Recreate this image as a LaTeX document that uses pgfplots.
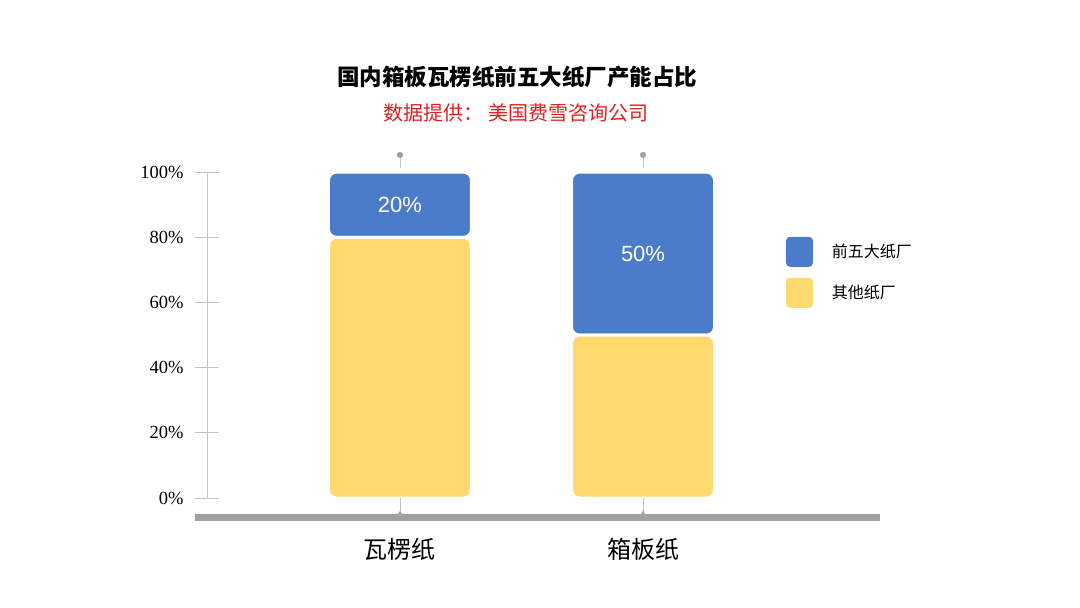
\documentclass[border=0pt]{standalone}
\usepackage{pgfplots}
\pgfplotsset{compat=1.18}
\usepackage{fontspec}
\setmainfont{Liberation Sans}
\newfontfamily\cjk{Noto Sans CJK SC}
\newfontfamily\serif{Liberation Serif}

\definecolor{barblue}{RGB}{74,124,201}
\definecolor{baryellow}{RGB}{253,217,110}
\definecolor{basegray}{RGB}{160,160,162}
\definecolor{axgray}{RGB}{195,195,195}
\definecolor{subred}{RGB}{224,32,32}

\begin{document}
\begin{tikzpicture}[x=1pt,y=1pt]
\path[use as bounding box] (0,0) rectangle (1080,608);
% titles
\node[font=\cjk\bfseries\fontsize{22.5}{22.5}\selectfont] at (517,531) {国内箱板瓦楞纸前五大纸厂产能占比};
\node[font=\cjk\fontsize{20}{20}\selectfont, text=subred] at (516,495) {数据提供： 美国费雪咨询公司};

\begin{axis}[
  at={(207pt,90.4pt)}, anchor=south west,
  scale only axis, width=673pt, height=365pt,
  xmin=-0.794, xmax=1.975, ymin=-6, ymax=106,
  ybar stacked, bar width=143pt,
  xtick={0,1}, xticklabels={瓦楞纸,箱板纸},
  ytick={0,20,...,100},
  yticklabel={\pgfmathprintnumber{\tick}\%},
  axis x line=bottom, axis y line=left,
  x axis line style={-, draw=basegray, line width=7pt, shorten <=-12pt},
  y axis line style={-, draw=axgray, line width=0.8pt, shorten <=19.6pt, shorten >=19.6pt},
  tick align=center, major tick length=24pt,
  ytick style={draw=axgray, line width=0.8pt},
  xtick style={draw=none},
  yticklabel style={font=\serif\fontsize{18.5}{18.5}\selectfont, xshift=-8pt},
  /pgf/number format/assume math mode=true,
  xticklabel style={font=\cjk\fontsize{24}{24}\selectfont, yshift=-5pt},
  reverse legend,
  legend style={at={(0.860,0.672)}, anchor=west, draw=none, fill=none, inner sep=0pt,
    font=\cjk\fontsize{16}{16}\selectfont, row sep=11pt,
    /tikz/every odd column/.append style={column sep=17pt}},
  legend image code/.code={\fill[#1, draw=none, rounded corners=4pt] (0pt,-15pt) rectangle (27pt,15pt);},
  legend cell align=left,
  clip=false,
]
\addplot[fill=baryellow, draw=white, line width=3pt, rounded corners=8pt]
  coordinates {(0,80) (1,50)};
\addplot[fill=barblue, draw=white, line width=3pt, rounded corners=8pt,
  point meta=rawy,
  nodes near coords={\pgfmathprintnumber{\pgfplotspointmeta}\%},
  every node near coord/.append style={anchor=center, text=white,
    font=\fontsize{22}{22}\selectfont}]
  coordinates {(0,20) (1,50)};
\legend{其他纸厂,前五大纸厂}
\end{axis}

% pins above and below the bars
\begin{axis}[
  at={(207pt,90.4pt)}, anchor=south west,
  scale only axis, width=673pt, height=365pt,
  xmin=-0.794, xmax=1.975, ymin=-6, ymax=106,
  hide axis, clip=false,
]
\addplot[only marks, mark=*, mark size=2.8pt, color=gray!75,
  error bars/.cd, y dir=minus, y explicit, error mark=none,
  error bar style={draw=axgray, line width=0.8pt}]
  coordinates {(0,105.3) -= (0,4) (1,105.3) -= (0,4)};
\addplot[only marks, mark=triangle*, mark size=3pt, color=basegray,
  error bars/.cd, y dir=plus, y explicit, error mark=none,
  error bar style={draw=axgray, line width=0.8pt}]
  coordinates {(0,-5) += (0,5) (1,-5) += (0,5)};
\end{axis}
\end{tikzpicture}
\end{document}
